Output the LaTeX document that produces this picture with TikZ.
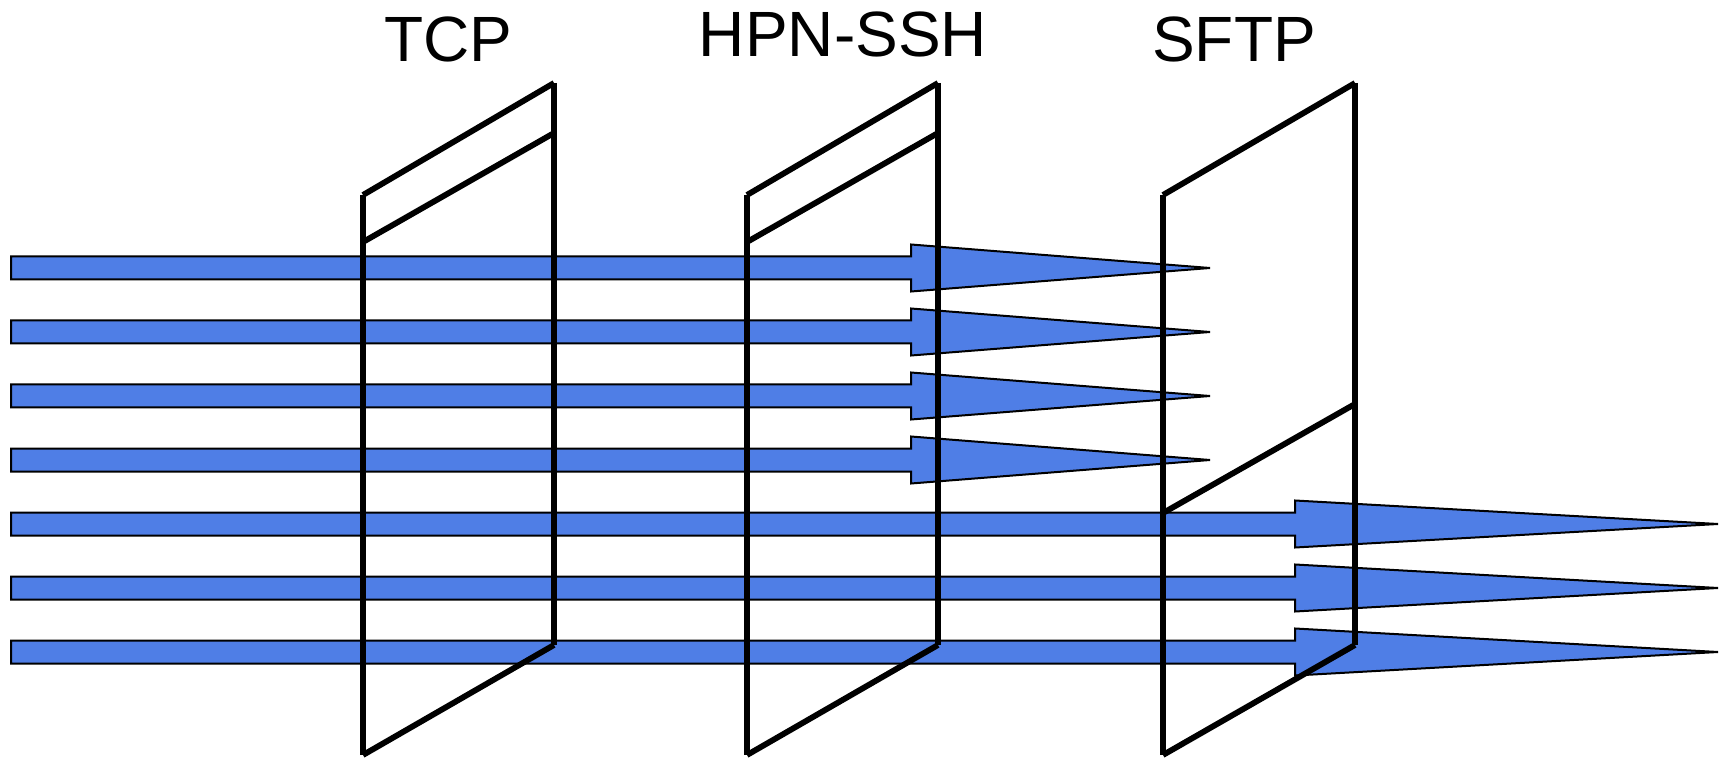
\documentclass[tikz,border=0pt]{standalone}
\usepackage{fontspec}
\setmainfont{Liberation Sans}
\definecolor{flowblue}{RGB}{79,126,230}
\begin{document}
\begin{tikzpicture}[x=0.5pt,y=-0.5pt,
  flow/.style={fill=flowblue,draw=black,line width=1pt,line join=miter},
  plane/.style={draw=black,line width=2.9pt},
  label/.style={font=\fontsize{32}{38}\selectfont,anchor=base,inner sep=0pt}]
\useasboundingbox (0,0) rectangle (1720,759);

% streams: #1 centre y, #2 start of head, #3 tip x
\newcommand{\flowarrow}[3]{%
  \path[flow] (11,#1-11.5) -- (#2,#1-11.5) -- (#2,#1-23.5) -- (#3,#1)
    -- (#2,#1+23.5) -- (#2,#1+11.5) -- (11,#1+11.5) -- cycle;}
\foreach \yc in {268,332,396,460} {\flowarrow{\yc}{911}{1210}}
\foreach \yc in {524,588,652} {\flowarrow{\yc}{1295}{1718}}

% window planes: #1 left x, #2 right x, #3 inner line left y
\newcommand{\window}[3]{%
  \draw[plane] (#1,195) -- (#1,755);
  \draw[plane] (#2,83) -- (#2,645);
  \draw[plane] (#1,195) -- (#2,83);
  \draw[plane] (#1,#3) -- (#2,#3-109);
  \draw[plane] (#1,755) -- (#2,645);}
\window{363}{554}{242}
\window{747}{938}{242}
\window{1163}{1355}{513}

\node[label] (tcp) at (448,62) {TCP};
\node[label] (hpn) at (843,57) {HPN-SSH};
\node[label] (sftp) at (1234,62) {SFTP};
\end{tikzpicture}
\end{document}
